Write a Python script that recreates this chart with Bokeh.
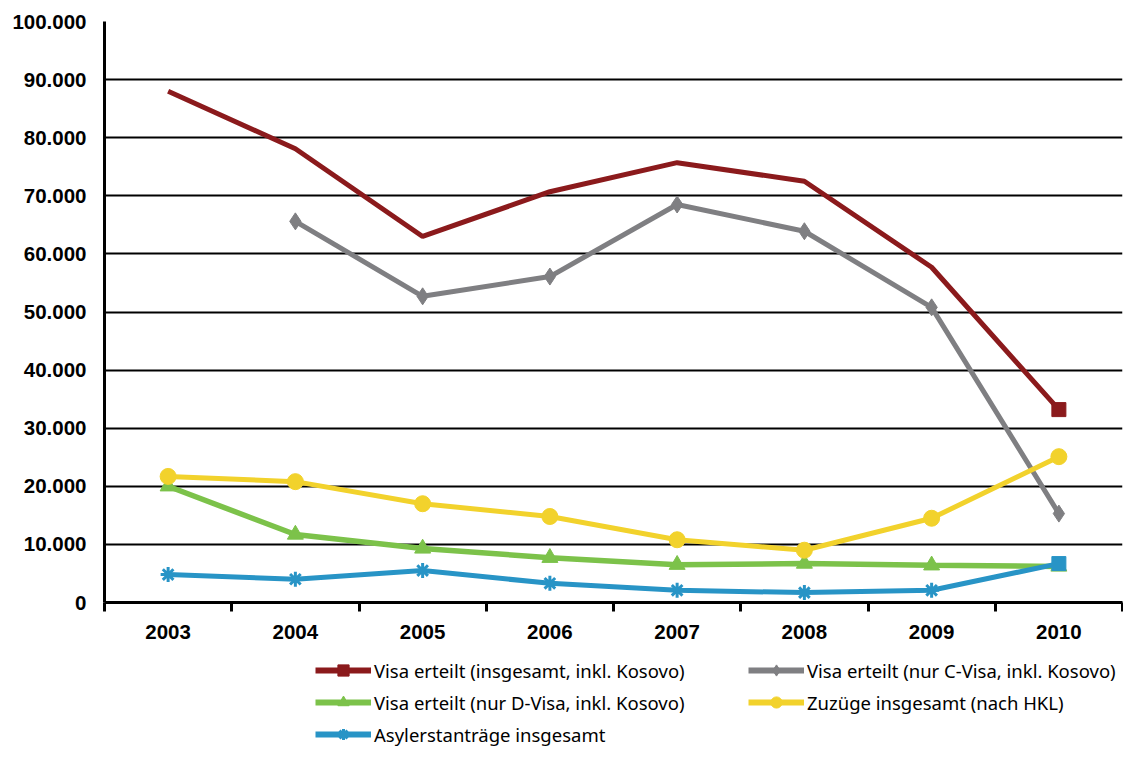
import math
from bokeh.plotting import figure
from bokeh.layouts import column
from bokeh.models import Range1d, FixedTicker, Legend, LegendItem
from bokeh.embed import file_html
from bokeh.resources import INLINE

years = [2003, 2004, 2005, 2006, 2007, 2008, 2009, 2010]
x_tick_labels = ["2003", "2004", "2005", "2006", "2007", "2008", "2009", "2010"]

visa_total = [88000, 78100, 63000, 70700, 75700, 72500, 57700, 33200]
visa_c = [math.nan, 65600, 52700, 56100, 68500, 63900, 50800, 15300]
visa_d = [20000, 11700, 9300, 7700, 6500, 6700, 6400, 6200]
zuzuege = [21700, 20800, 17000, 14800, 10800, 9000, 14500, 25100]
asyl = [4800, 4000, 5500, 3300, 2100, 1700, 2100, 6700]

y_ticks = [0, 10000, 20000, 30000, 40000, 50000, 60000, 70000, 80000, 90000, 100000]
y_tick_labels = ["0", "10.000", "20.000", "30.000", "40.000", "50.000",
                 "60.000", "70.000", "80.000", "90.000", "100.000"]

labels = ["Visa erteilt (insgesamt, inkl. Kosovo)",
          "Visa erteilt (nur C-Visa, inkl. Kosovo)",
          "Visa erteilt (nur D-Visa, inkl. Kosovo)",
          "Zuzüge insgesamt (nach HKL)",
          "Asylerstanträge insgesamt"]

RED = "#8b1a1c"
GRAY = "#7f7f82"
GREEN = "#7cc24a"
YELLOW = "#f2d22c"
BLUE = "#2894c6"

p = figure(width=1123, height=650, output_backend="svg", toolbar_location=None,
           x_range=Range1d(2002.5, 2010.5), y_range=Range1d(0, 100000),
           min_border_left=104, min_border_right=1, min_border_top=21,
           min_border_bottom=48)
p.outline_line_color = None
p.background_fill_color = "white"
p.border_fill_color = "white"

# axes
p.xaxis.ticker = FixedTicker(ticks=years, minor_ticks=[y - 0.5 for y in years] + [years[-1] + 0.5])
p.xaxis.major_label_overrides = {y: l for y, l in zip(years, x_tick_labels)}
p.xaxis.major_tick_out = 0
p.xaxis.major_tick_in = 0
p.xaxis.minor_tick_out = 9
p.xaxis.minor_tick_in = 0
p.xaxis.minor_tick_line_width = 3
p.xaxis.minor_tick_line_color = "black"
p.xaxis.axis_line_width = 3
p.xaxis.axis_line_color = "black"
p.xaxis.major_label_standoff = 13

p.yaxis.ticker = FixedTicker(ticks=y_ticks, minor_ticks=[])
p.yaxis.major_label_overrides = {t: l for t, l in zip(y_ticks, y_tick_labels)}
p.yaxis.major_tick_out = 0
p.yaxis.major_tick_in = 0
p.yaxis.minor_tick_out = 0
p.yaxis.minor_tick_in = 0
p.yaxis.axis_line_width = 3
p.yaxis.axis_line_color = "black"
p.yaxis.major_label_standoff = 18

for ax in (p.xaxis, p.yaxis):
    ax.major_label_text_font = "Liberation Sans"
    ax.major_label_text_font_style = "bold"
    ax.major_label_text_font_size = "20.5px"
    ax.major_label_text_color = "black"

p.xgrid.visible = False
p.ygrid.grid_line_color = "black"
p.ygrid.grid_line_width = 2
p.ygrid.grid_line_alpha = 1

LW = 5
MK = {
    "red": dict(marker="square", size=14),
    "gray": dict(marker="diamond", size=17),
    "green": dict(marker="triangle", size=16),
    "yellow": dict(marker="circle", size=16),
    "blue": dict(marker="asterisk", size=15),
}

p.line(years, visa_total, line_color=RED, line_width=LW)
p.scatter(years[-1:], visa_total[-1:], color=RED, **MK["red"])

p.line(years, visa_c, line_color=GRAY, line_width=LW)
p.scatter(years[1:], visa_c[1:], color=GRAY, **MK["gray"])

p.line(years, visa_d, line_color=GREEN, line_width=LW + 0.5)
p.scatter(years, visa_d, color=GREEN, **MK["green"])

p.line(years, zuzuege, line_color=YELLOW, line_width=LW)
p.scatter(years, zuzuege, color=YELLOW, **MK["yellow"])

p.line(years, asyl, line_color=BLUE, line_width=LW)
p.scatter(years[:-1], asyl[:-1], line_color=BLUE, line_width=3, **MK["blue"])
p.scatter(years[-1:], asyl[-1:], marker="square", size=14, color=BLUE)

# legend figure (its renderers lie outside its visible range; only the legend is seen)
pl = figure(width=1123, height=98, output_backend="svg", toolbar_location=None,
            x_range=Range1d(0, 1), y_range=Range1d(0, 1),
            min_border_left=0, min_border_right=0, min_border_top=0, min_border_bottom=0)
pl.axis.visible = False
pl.grid.visible = False
pl.outline_line_color = None

def swatch(color, key, series, **kw):
    l = pl.line(years, series, line_color=color, line_width=LW + 1)
    m = pl.scatter(years, series, color=color, **MK[key], **kw)
    return [l, m]

sw = {
    "red": swatch(RED, "red", visa_total),
    "gray": swatch(GRAY, "gray", visa_c),
    "green": swatch(GREEN, "green", visa_d),
    "yellow": swatch(YELLOW, "yellow", zuzuege),
    "blue": swatch(BLUE, "blue", asyl, line_width=3),
}

items = [
    LegendItem(label=labels[0], renderers=sw["red"]),
    LegendItem(label=labels[2], renderers=sw["green"]),
    LegendItem(label=labels[4], renderers=sw["blue"]),
    LegendItem(label=labels[1], renderers=sw["gray"]),
    LegendItem(label=labels[3], renderers=sw["yellow"]),
]
legend = Legend(items=items, ncols=2, location=(211, 0),
                glyph_width=56, glyph_height=28, label_height=20, label_width=370,
                label_standoff=3, spacing=4, padding=0, margin=0,
                border_line_color=None, background_fill_alpha=0,
                label_text_font="Noto Sans", label_text_font_size="18.5px",
                label_text_color="black")
pl.add_layout(legend, "center")

layout = column(p, pl, spacing=0)
open("out.html", "w").write(file_html(layout, INLINE))
